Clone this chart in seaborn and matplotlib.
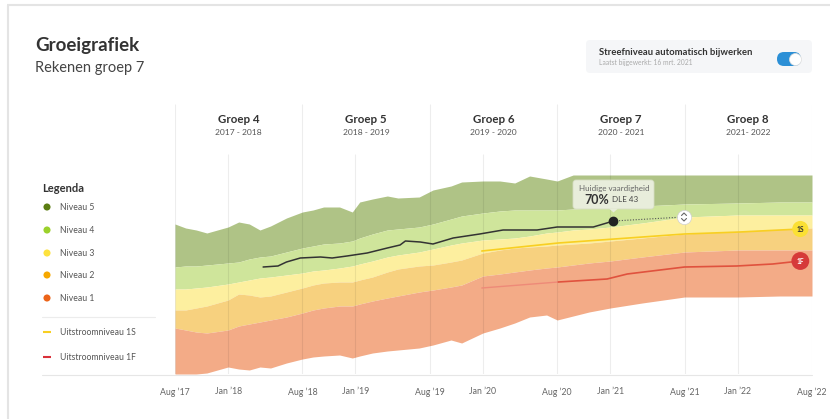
import matplotlib
matplotlib.use("Agg")
import matplotlib.pyplot as plt
from matplotlib.patches import FancyBboxPatch, Polygon
import seaborn as sns

# ---------------- data ----------------
months = [0, 1, 2, 3, 5, 6, 7, 8, 9, 10.5, 12, 13, 14, 15.5, 16.7, 17.4, 18.6, 20, 21, 23,
          24.3, 26, 27, 29, 30.6, 32, 33.4, 35, 36, 37.5, 39, 41, 44, 48, 53, 57, 60]
niveau5_top = [150, 146, 144, 141, 147, 152, 150, 144, 148, 156, 162, 164, 167, 167, 162, 172, 175, 178, 176, 177,
               184, 188, 192, 193, 193, 191, 198, 195, 193, 199, 199, 199, 199, 199, 199, 199, 199]
niveau5_bottom = [107, 108, 108, 109, 111, 112, 115, 117, 118, 122, 126, 128, 130, 131, 133, 136, 140, 144, 145, 147,
                  150, 155, 158, 161, 163, 164, 164, 164, 164, 165, 166, 167, 168, 170, 171, 172, 172]
niveau4_bottom = [85, 85, 86, 87, 90, 92, 94, 96, 97, 99, 101, 103, 104, 106, 108, 110, 113, 117, 119, 122,
                  125, 129, 131, 134, 135, 136, 138, 141, 142, 144, 145, 147, 151, 157, 159, 159, 159]
niveau3_bottom = [64, 64, 66, 68, 74, 80, 79, 77, 78, 82, 86, 89, 91, 92, 92, 94, 97, 102, 105, 108,
                  109, 112, 114, 121, 124, 126, 127, 128, 129, 130, 131, 133, 136, 140, 143, 145, 146]
niveau2_bottom = [46, 44, 42, 41, 44, 48, 50, 52, 54, 57, 61, 64, 66, 68, 68, 70, 73, 76, 78, 82,
                  84, 87, 89, 98, 100, 102, 104, 106, 107, 109, 111, 113, 117, 122, 124, 124, 124]
niveau1_bottom = [0, 0, 0, 1, 7, 5, 4, 7, 6, 11, 15, 17, 18, 19, 16, 18, 21, 23, 24, 26,
                  29, 34, 31, 41, 46, 51, 57, 59, 54, 58, 62, 66, 71, 77, 77, 78, 78]

skill_months = [8.3, 9.7, 10.5, 11.8, 13.7, 14.8, 16.2, 18.1, 20.0, 21.2, 21.7, 23.1, 24.3, 26.2,
                28.7, 30.9, 34.1, 36.0, 39.4, 41.3]
skill_values = [107, 108, 112, 116, 117, 116, 118, 121, 126, 129, 133, 132, 130, 136,
                140, 144, 144, 147, 147, 153]
projection_months = [41.3, 47.9]
projection_values = [153, 157]

s1_months = [28.9, 36.1, 48.0, 53.2, 58.9]
s1_values = [123, 131, 140, 142, 145]
f1_months_a = [28.9, 36.1]
f1_values_a = [86, 92]
f1_months_b = [36.1, 40.7, 42.6, 48.0, 52.9, 56.3, 58.9]
f1_values_b = [92, 95, 100, 107, 108, 110, 113]

tick_months = [0, 5, 12, 17, 24, 29, 36, 41, 48, 53, 60]
tick_labels = ["Aug ’17", "Jan ’18", "Aug ’18", "Jan ’19", "Aug ’19", "Jan ’20",
               "Aug ’20", "Jan ’21", "Aug ’21", "Jan ’22", "Aug ’22"]
aug_months = [0, 12, 24, 36, 48, 60]
jan_months = [5, 17, 29, 41, 53]
groups = ["Groep 4", "Groep 5", "Groep 6", "Groep 7", "Groep 8"]
group_years = ["2017 - 2018", "2018 - 2019", "2019 - 2020", "2020 - 2021", "2021- 2022"]
group_centers = [6, 18, 30, 42, 54]

legend_levels = ["Niveau 5", "Niveau 4", "Niveau 3", "Niveau 2", "Niveau 1"]
legend_colors = ["#5b7d12", "#9bd12b", "#fde23e", "#f6a800", "#ec6419"]
band_colors = ["#afc386", "#cfe59b", "#fdef9f", "#f7d17f", "#f3ab87"]

# ---------------- figure ----------------
sns.set_theme(style="white")
plt.rcParams['font.family'] = ['Lato', 'DejaVu Sans']

W, H = 830, 419
fig = plt.figure(figsize=(W / 100, H / 100), dpi=100)
fig.patch.set_facecolor("white")

ov = fig.add_axes([0, 0, 1, 1], zorder=0)
ov.set_xlim(0, W)
ov.set_ylim(H, 0)
ov.axis("off")

ax = fig.add_axes([175 / W, (H - 374) / H, 637 / W, 270 / H], zorder=1)
ax.set_facecolor("none")
ax.set_xlim(0, 60)
ax.set_ylim(0, 270)

top = fig.add_axes([0, 0, 1, 1], zorder=3)
top.set_xlim(0, W)
top.set_ylim(H, 0)
top.axis("off")
top.patch.set_alpha(0)

# card border
ov.plot([7, 830], [5.5, 5.5], color="#e4e4e4", lw=1.5, solid_capstyle="butt")
ov.plot([7.5, 7.5], [5, 419], color="#e4e4e4", lw=1.5, solid_capstyle="butt")

# title
ov.text(35, 46, "Groeigrafiek", fontsize=13.5, fontweight="bold", color="#333333", va="center", ha="left")
ov.text(35, 68, "Rekenen groep 7", fontsize=10.5, color="#444444", va="center", ha="left")

# top-right box
ov.add_patch(FancyBboxPatch((586, 40), 226, 33, boxstyle="round,pad=0,rounding_size=4",
                            facecolor="#f5f6f8", edgecolor="none"))
ov.text(599, 52.5, "Streefniveau automatisch bijwerken", fontsize=6.8, fontweight="bold",
        color="#333333", va="center", ha="left")
ov.text(599, 63, "Laatst bijgewerkt: 16 mrt. 2021", fontsize=4.9, color="#aaaaaa", va="center", ha="left")
ov.add_patch(FancyBboxPatch((777, 52), 24, 14, boxstyle="round,pad=0,rounding_size=7",
                            facecolor="#2b8fd6", edgecolor="none"))
ov.scatter([795], [59], s=75, color="white", edgecolors="#dddddd", linewidths=0.5, zorder=5)

# legend
ov.text(42, 188, "Legenda", fontsize=8, fontweight="bold", color="#333333", va="center", ha="left")
leg_y = [207, 230, 253, 275, 298]
for lbl, col, yy in zip(legend_levels, legend_colors, leg_y):
    ov.scatter([47], [yy], s=26, color=col, edgecolors="none")
    ov.text(60, yy, lbl, fontsize=6.2, color="#555555", va="center", ha="left")
ov.plot([42, 155], [317, 317], color="#ececec", lw=0.8)
ov.plot([43, 51], [332, 332], color="#f8cf22", lw=1.5, solid_capstyle="butt")
ov.text(60, 332, "Uitstroomniveau 1S", fontsize=6.2, color="#555555", va="center", ha="left")
ov.plot([43, 51], [357, 357], color="#d9303a", lw=1.5, solid_capstyle="butt")
ov.text(60, 357, "Uitstroomniveau 1F", fontsize=6.2, color="#555555", va="center", ha="left")

# bottom axis line
ov.plot([42, 812], [374.5, 374.5], color="#e6e6e6", lw=0.8)

# bands
bounds = [niveau5_top, niveau5_bottom, niveau4_bottom, niveau3_bottom, niveau2_bottom, niveau1_bottom]
for i, col in enumerate(band_colors):
    ax.fill_between(months, bounds[i + 1], bounds[i], color=col, linewidth=0, zorder=1)

# grid lines
ax.vlines(aug_months, 0, 270, color="black", alpha=0.07, lw=0.8, zorder=2)
ax.vlines(jan_months, 0, 220, color="black", alpha=0.07, lw=0.8, zorder=2)

# group headers
for g, yr, c in zip(groups, group_years, group_centers):
    ax.text(c, 255, g, fontsize=8.3, fontweight="bold", color="#333333", ha="center", va="center")
    ax.text(c, 242, yr, fontsize=6.1, color="#555555", ha="center", va="center")

# lines
sns.lineplot(x=s1_months, y=s1_values, ax=ax, color="#f8cf22", lw=1.2, zorder=3)
sns.lineplot(x=f1_months_a, y=f1_values_a, ax=ax, color="#ee8a78", lw=1.0, zorder=3)
sns.lineplot(x=f1_months_b, y=f1_values_b, ax=ax, color="#e0523e", lw=1.2, zorder=3)
sns.lineplot(x=projection_months, y=projection_values, ax=ax, color="#555555", lw=0.8,
             linestyle=(0, (1, 1.5)), zorder=3)
sns.lineplot(x=skill_months, y=skill_values, ax=ax, color="#333333", lw=1.1, zorder=4)
ax.scatter([skill_months[-1]], [skill_values[-1]], s=36, color="#222222", zorder=5)

# end markers
ax.scatter([s1_months[-1]], [s1_values[-1]], s=135, color="#fbe034", edgecolors="none", zorder=6, clip_on=False)
ax.text(s1_months[-1], s1_values[-1], "1S", fontsize=4.8, fontweight="bold", color="#333333",
        ha="center", va="center", zorder=7)
ax.scatter([f1_months_b[-1]], [f1_values_b[-1]], s=165, color="#d63a3a", edgecolors="none", zorder=6, clip_on=False)
ax.text(f1_months_b[-1], f1_values_b[-1], "1F", fontsize=4.8, fontweight="bold", color="white",
        ha="center", va="center", zorder=7)
ax.scatter([projection_months[-1]], [projection_values[-1]], s=105, color="white",
           edgecolors="#d0d0d0", linewidths=0.5, zorder=6)

# axes styling
ax.set_xticks(tick_months)
ax.set_xticklabels(tick_labels)
ax.set_yticks([])
ax.tick_params(axis="x", length=0, pad=9.5, labelsize=6.3, labelcolor="#666666")
for s in ax.spines.values():
    s.set_visible(False)
ax.grid(False)

# chevrons in projection circle
cx, cy = 684, 217
top.plot([cx - 2.5, cx, cx + 2.5], [cy - 1.5, cy - 4, cy - 1.5], color="#666666", lw=0.8)
top.plot([cx - 2.5, cx, cx + 2.5], [cy + 1.5, cy + 4, cy + 1.5], color="#666666", lw=0.8)

# tooltip
top.add_patch(FancyBboxPatch((573, 180), 81, 29, boxstyle="round,pad=0,rounding_size=3",
                             facecolor="#e8eddb", edgecolor="#d6ddc3", lw=0.6))
top.add_patch(Polygon([[609, 208.5], [618, 208.5], [613.5, 212.5]], closed=True,
                      facecolor="#e8eddb", edgecolor="none"))
top.text(614, 188, "Huidige vaardigheid", fontsize=5.8, color="#666666", ha="center", va="center")
top.text(597, 199.5, "70%", fontsize=9, fontweight="bold", color="#333333", ha="center", va="center")
top.text(625, 199.5, "DLE 43", fontsize=5.8, color="#444444", ha="center", va="center")

fig.savefig("out.png", dpi=100, facecolor="white")
